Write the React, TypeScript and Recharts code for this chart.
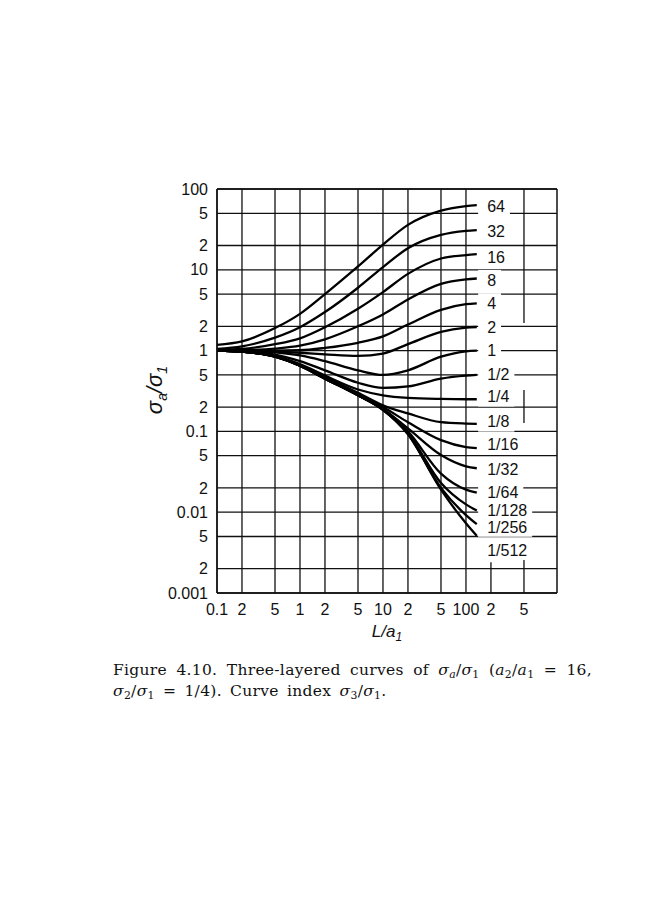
import {
  CartesianGrid,
  Line,
  LineChart,
  ReferenceDot,
  ReferenceLine,
  XAxis,
  YAxis,
} from "recharts";

const X_MAX = 1250;
const X_POINTS = [0.1, 0.2, 0.5, 1, 2, 5, 10, 20, 50, 100, 135];

// sigma_a / sigma_1, one array per curve (index sigma_3/sigma_1)
const S_64 = [1.18, 1.3, 1.9, 2.85, 5.0, 11, 20.5, 36, 54, 61.5, 63];
const S_32 = [1.05, 1.13, 1.45, 1.95, 3.0, 6.0, 10.8, 18.5, 27, 30.3, 31];
const S_16 = [1.02, 1.05, 1.2, 1.42, 1.95, 3.3, 5.3, 8.9, 13.8, 15.2, 15.6];
const S_8 = [1.0, 1.01, 1.06, 1.15, 1.38, 2.0, 2.8, 4.3, 6.7, 7.6, 7.8];
const S_4 = [1.0, 1.0, 1.0, 1.01, 1.08, 1.25, 1.5, 2.1, 3.2, 3.75, 3.85];
const S_2 = [1.0, 0.99, 0.97, 0.94, 0.9, 0.86, 0.92, 1.2, 1.7, 1.92, 1.96];
const S_1 = [1.0, 0.99, 0.95, 0.87, 0.74, 0.57, 0.5, 0.57, 0.84, 0.98, 1.0];
const S_1_2 = [1.0, 0.98, 0.89, 0.74, 0.57, 0.4, 0.345, 0.36, 0.45, 0.49, 0.5];
const S_1_4 = [1.0, 0.97, 0.86, 0.68, 0.49, 0.33, 0.28, 0.26, 0.252, 0.25, 0.25];
const S_1_8 = [1.0, 0.97, 0.85, 0.66, 0.47, 0.3, 0.21, 0.167, 0.13, 0.125, 0.124];
const S_1_16 = [1.0, 0.97, 0.85, 0.66, 0.46, 0.29, 0.2, 0.13, 0.078, 0.064, 0.062];
const S_1_32 = [1.0, 0.97, 0.85, 0.65, 0.46, 0.28, 0.19, 0.109, 0.051, 0.037, 0.035];
const S_1_64 = [1.0, 0.97, 0.85, 0.65, 0.45, 0.28, 0.19, 0.1, 0.03, 0.019, 0.0175];
const S_1_128 = [1.0, 0.97, 0.84, 0.65, 0.45, 0.28, 0.185, 0.095, 0.023, 0.0125, 0.0105];
const S_1_256 = [1.0, 0.97, 0.84, 0.65, 0.45, 0.28, 0.185, 0.093, 0.02, 0.0092, 0.0071];
const S_1_512 = [1.0, 0.97, 0.84, 0.65, 0.45, 0.28, 0.185, 0.092, 0.019, 0.0073, 0.0051];

const SERIES = [S_64, S_32, S_16, S_8, S_4, S_2, S_1, S_1_2, S_1_4, S_1_8, S_1_16, S_1_32, S_1_64, S_1_128, S_1_256, S_1_512];
const CURVE_LABELS = ["64", "32", "16", "8", "4", "2", "1", "1/2", "1/4", "1/8", "1/16", "1/32", "1/64", "1/128", "1/256", "1/512"];
const LABEL_X = 180;
const LABEL_Y = [62, 30, 14.4, 7.5, 3.86, 1.93, 1.0, 0.51, 0.27, 0.132, 0.069, 0.034, 0.0179, 0.0106, 0.0066, 0.0034];

const X_TICKS = [0.1, 0.2, 0.5, 1, 2, 5, 10, 20, 50, 100, 200, 500];
const X_TICK_LABELS = ["0.1", "2", "5", "1", "2", "5", "10", "2", "5", "100", "2", "5"];
const X_GRID = [0.1, 0.2, 0.5, 1, 2, 5, 10, 20, 50, 100];
const Y_TICKS = [0.001, 0.002, 0.005, 0.01, 0.02, 0.05, 0.1, 0.2, 0.5, 1, 2, 5, 10, 20, 50, 100];
const Y_TICK_LABELS = ["0.001", "2", "5", "0.01", "2", "5", "0.1", "2", "5", "1", "2", "5", "10", "2", "5", "100"];
// pieces of the 200 and 500 grid lines left visible around the label column
const GRID_PIECES: [number, number, number][] = [
  [200, 0.001, 0.0024],
  [500, 2.2, 100],
  [500, 0.127, 0.326],
  [500, 0.001, 0.0026],
];

const rows = X_POINTS.map((x, i) => {
  const row: Record<string, number> = { x };
  SERIES.forEach((s, k) => {
    row[`c${k}`] = s[i];
  });
  return row;
});

const SANS = "'Liberation Sans', Arial, sans-serif";
const INK = "#111";

function lookup(ticks: number[], labels: string[], v: number) {
  const i = ticks.findIndex((t) => Math.abs(t - v) / t < 1e-6);
  return i >= 0 ? labels[i] : "";
}

function textWidth(s: string) {
  let w = 0;
  for (const ch of s) w += ch === "/" ? 0.278 : 0.556;
  return w * 16;
}

function CurveLabel({ cx, cy, text }: { cx?: number; cy?: number; text: string }) {
  if (cx == null || cy == null) return null;
  const w = textWidth(text);
  return (
    <g>
      <rect x={cx - 9} y={cy - 10} width={w + 14} height={20} fill="#fff" />
      <text x={cx} y={cy} dy="0.36em" fontFamily={SANS} fontSize={16} fill={INK}>
        {text}
      </text>
    </g>
  );
}

const subStyle = { fontSize: "0.7em", verticalAlign: "-0.25em", lineHeight: 0 };

export default function App() {
  return (
    <div style={{ position: "absolute", left: 0, top: 0, width: 650, height: 900, background: "#fff" }}>
      <LineChart width={650} height={680} data={rows} margin={{ top: 189, right: 93, bottom: 57, left: 157 }}>
        <CartesianGrid stroke={INK} strokeWidth={1.3} verticalValues={X_GRID} horizontalValues={Y_TICKS} />
        <XAxis
          dataKey="x"
          type="number"
          scale="log"
          domain={[0.1, X_MAX]}
          ticks={X_TICKS}
          interval={0}
          allowDataOverflow
          tickSize={0}
          tickMargin={11}
          stroke={INK}
          strokeWidth={1.5}
          tick={{ fontFamily: SANS, fontSize: 16, fill: INK }}
          tickFormatter={(v: number) => lookup(X_TICKS, X_TICK_LABELS, v)}
          label={({ viewBox }: any) => (
            <text
              x={viewBox.x + viewBox.width / 2}
              y={viewBox.y + 44}
              textAnchor="middle"
              fontFamily={SANS}
              fontStyle="italic"
              fontSize={17}
              fill={INK}
            >
              L/a<tspan fontSize={12} dy={4}>1</tspan>
            </text>
          )}
        />
        <YAxis
          type="number"
          scale="log"
          domain={[0.001, 100]}
          ticks={Y_TICKS}
          interval={0}
          allowDataOverflow
          width={60}
          tickSize={0}
          tickMargin={9}
          stroke={INK}
          strokeWidth={1.5}
          tick={{ fontFamily: SANS, fontSize: 16, fill: INK }}
          tickFormatter={(v: number) => lookup(Y_TICKS, Y_TICK_LABELS, v)}
          label={({ viewBox }: any) => (
            <text
              transform={`translate(${viewBox.x + 5}, ${viewBox.y + viewBox.height / 2 - 1}) rotate(-90)`}
              textAnchor="middle"
              fontFamily={SANS}
              fontStyle="italic"
              fontSize={22}
              fill={INK}
            >
              σ<tspan fontSize={14} dy={5}>a</tspan>
              <tspan dy={-5}>/σ</tspan>
              <tspan fontSize={14} dy={5}>1</tspan>
            </text>
          )}
        />
        {GRID_PIECES.map(([x, y1, y2], k) => (
          <ReferenceLine
            key={`g${k}`}
            segment={[{ x, y: y1 }, { x, y: y2 }]}
            stroke={INK}
            strokeWidth={1.3}
            ifOverflow="visible"
          />
        ))}
        <ReferenceLine x={X_MAX} stroke={INK} strokeWidth={1.5} ifOverflow="visible" />
        <ReferenceLine y={100} stroke={INK} strokeWidth={1.5} ifOverflow="visible" />
        {SERIES.map((_, k) => (
          <Line
            key={k}
            dataKey={`c${k}`}
            type="monotone"
            stroke="#000"
            strokeWidth={2.3}
            dot={false}
            isAnimationActive={false}
          />
        ))}
        {CURVE_LABELS.map((t, k) => (
          <ReferenceDot
            key={t}
            x={LABEL_X}
            y={LABEL_Y[k]}
            r={0}
            ifOverflow="visible"
            shape={(p: any) => <CurveLabel cx={p.cx} cy={p.cy} text={t} />}
          />
        ))}
      </LineChart>
      <div
        style={{
          position: "absolute",
          left: 113,
          top: 660,
          width: 479,
          fontFamily: "'DejaVu Serif', serif",
          fontSize: 15.5,
          letterSpacing: "0.3px",
          lineHeight: "21px",
          color: "#111",
        }}
      >
        <div style={{ textAlign: "justify", textAlignLast: "justify", whiteSpace: "nowrap" }}>
          Figure 4.10. Three-layered curves of <i>σ</i>
          <sub style={subStyle}><i>a</i></sub>/<i>σ</i>
          <sub style={subStyle}>1</sub> (<i>a</i>
          <sub style={subStyle}>2</sub>/<i>a</i>
          <sub style={subStyle}>1</sub> = 16,
        </div>
        <div style={{ wordSpacing: "3px" }}>
          <i>σ</i>
          <sub style={subStyle}>2</sub>/<i>σ</i>
          <sub style={subStyle}>1</sub> = 1/4). Curve index <i>σ</i>
          <sub style={subStyle}>3</sub>/<i>σ</i>
          <sub style={subStyle}>1</sub>.
        </div>
      </div>
    </div>
  );
}
